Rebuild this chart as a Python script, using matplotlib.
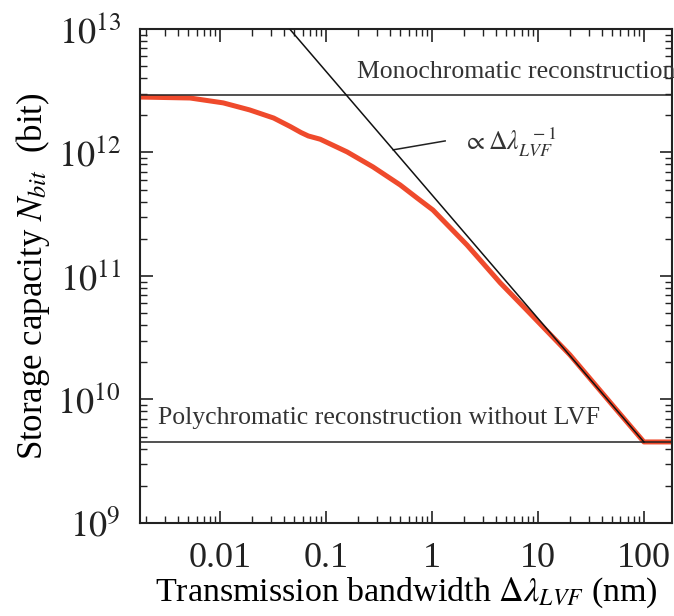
import matplotlib
matplotlib.use("Agg")
import matplotlib.pyplot as plt
from matplotlib.ticker import LogLocator, NullFormatter

plt.rcParams['font.family'] = ['Liberation Serif', 'DejaVu Serif']
plt.rcParams['mathtext.fontset'] = 'stix'

# red curve
bw = [0.00176, 0.0052, 0.0107, 0.019, 0.032, 0.046, 0.058, 0.068, 0.088, 0.158,
      0.277, 0.5, 0.72, 1.02, 2.14, 4.4, 8.0, 20, 50, 100, 184]
nbit = [2.81e12, 2.76e12, 2.52e12, 2.21e12, 1.90e12, 1.62e12, 1.45e12, 1.36e12,
        1.28e12, 1.01e12, 7.64e11, 5.46e11, 4.29e11, 3.42e11, 1.78e11, 8.8e10,
        5.2e10, 2.3e10, 9.1e9, 4.53e9, 4.53e9]

# reference lines
mono_level = 2.92e12
poly_level = 4.53e9
fit_x = [0.0453, 100]
fit_y = [1e13, 4.53e9]

fig = plt.figure(figsize=(6.74, 6.16), dpi=100)
ax = fig.add_axes([0.208, 0.151, 0.789, 0.802])

ax.plot(bw, nbit, color='#ef4a2c', lw=3.6, solid_capstyle='round', zorder=2)
ax.axhline(mono_level, color='#222222', lw=1.1, zorder=3)
ax.axhline(poly_level, color='#222222', lw=1.1, zorder=3)
ax.plot(fit_x, fit_y, color='#111111', lw=1.1, zorder=4)

ax.set_xscale('log')
ax.set_yscale('log')
ax.set_xlim(0.00176, 184)
ax.set_ylim(1e9, 1e13)

ax.set_xticks([0.01, 0.1, 1, 10, 100])
ax.set_xticklabels(['0.01', '0.1', '1', '10', '100'])
ax.xaxis.set_minor_locator(LogLocator(base=10, subs=range(2, 10), numticks=20))
ax.xaxis.set_minor_formatter(NullFormatter())
ax.set_yticks([1e9, 1e10, 1e11, 1e12, 1e13])
ax.set_yticklabels([r'$10^{9}$', r'$10^{10}$', r'$10^{11}$', r'$10^{12}$', r'$10^{13}$'])
ax.yaxis.set_minor_locator(LogLocator(base=10, subs=range(2, 10), numticks=20))
ax.yaxis.set_minor_formatter(NullFormatter())

ax.tick_params(which='both', direction='in', top=True, right=True, colors='#222222')
ax.tick_params(which='major', length=9, width=1.2, labelsize=26, pad=14)
ax.tick_params(which='minor', length=5, width=1.0)
for s in ax.spines.values():
    s.set_linewidth(1.5)
    s.set_color('#222222')

ax.text(0.408, 0.912, 'Monochromatic reconstruction', fontsize=18.5, color='#333333',
        transform=ax.transAxes, va='center', clip_on=False)
ax.text(0.034, 0.212, 'Polychromatic reconstruction without LVF', fontsize=18.5,
        color='#333333', transform=ax.transAxes, va='center')

# leader line and label for the slope -1 guide
ax.plot([0.43, 1.33], [1.05e12, 1.24e12], color='#222222', lw=1.1)
ax.text(1.95, 1.2e12, r'$\propto \Delta\lambda_{LVF}^{\ \ -1}$', fontsize=18.5,
        color='#333333', va='center')

ax.set_xlabel(r'Transmission bandwidth $\Delta\lambda_{LVF}$ (nm)', fontsize=24.5, labelpad=0)
ax.set_ylabel(r'Storage capacity $N_{bit}$  (bit)', fontsize=25, labelpad=4)

fig.savefig('out.png', dpi=100)
